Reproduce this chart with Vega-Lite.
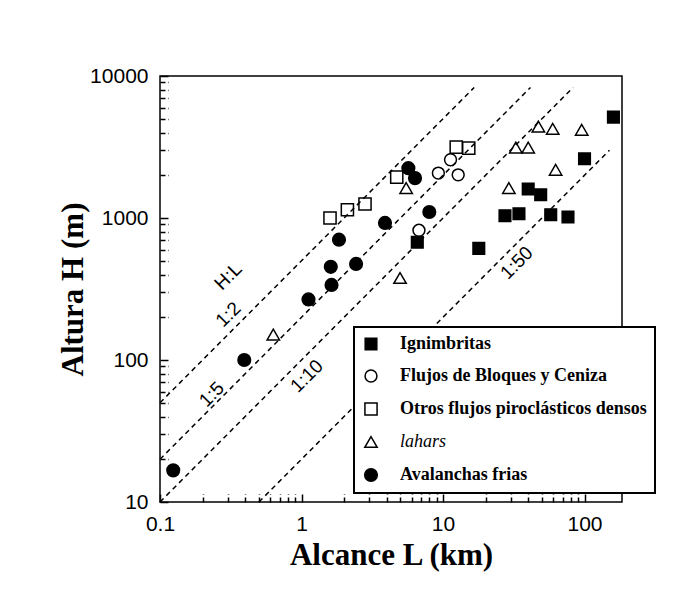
{
  "$schema": "https://vega.github.io/schema/vega-lite/v6.json",
  "width": 462,
  "height": 426,
  "autosize": {"type": "none"},
  "padding": {"left": 160, "top": 76, "right": 74, "bottom": 96},
  "background": "white",
  "config": {
    "view": {"stroke": "black", "strokeWidth": 1.5},
    "axis": {"grid": false, "ticks": true},
    "legend": {
      "orient": "none",
      "legendX": 194,
      "legendY": 251,
      "direction": "vertical",
      "strokeColor": "black",
      "fillColor": "white",
      "padding": 8,
      "rowPadding": 14,
      "labelFont": "Liberation Serif",
      "labelFontSize": 18,
      "labelFontWeight": "bold",
      "labelColor": "black",
      "labelOffset": 20,
      "labelLimit": 500,
      "symbolStrokeColor": "black",
      "symbolStrokeWidth": 1.5
    }
  },
  "datasets": {
    "lines": [
      {"ratio": "1:2", "L": 0.1, "H": 50},
      {"ratio": "1:2", "L": 16.6, "H": 8300},
      {"ratio": "1:5", "L": 0.1, "H": 20},
      {"ratio": "1:5", "L": 41.5, "H": 8300},
      {"ratio": "1:10", "L": 0.1, "H": 10},
      {"ratio": "1:10", "L": 83, "H": 8300},
      {"ratio": "1:50", "L": 0.5, "H": 10},
      {"ratio": "1:50", "L": 150, "H": 3000}
    ],
    "labels": [
      {"t": "H:L", "L": 0.304, "H": 389},
      {"t": "1:2", "L": 0.304, "H": 209},
      {"t": "1:5", "L": 0.232, "H": 57.3},
      {"t": "1:10", "L": 1.09, "H": 77},
      {"t": "1:50", "L": 33.2, "H": 483}
    ],
    "points": [
      {"tipo": "Ignimbritas", "L": 160, "H": 5130},
      {"tipo": "Ignimbritas", "L": 100, "H": 2612},
      {"tipo": "Ignimbritas", "L": 40, "H": 1600},
      {"tipo": "Ignimbritas", "L": 49, "H": 1458},
      {"tipo": "Ignimbritas", "L": 27.4, "H": 1038},
      {"tipo": "Ignimbritas", "L": 34.4, "H": 1072},
      {"tipo": "Ignimbritas", "L": 57.7, "H": 1055},
      {"tipo": "Ignimbritas", "L": 76.4, "H": 1016},
      {"tipo": "Ignimbritas", "L": 17.9, "H": 611},
      {"tipo": "Ignimbritas", "L": 6.58, "H": 675},
      {"tipo": "Flujos de Bloques y Ceniza", "L": 9.27, "H": 2072},
      {"tipo": "Flujos de Bloques y Ceniza", "L": 11.3, "H": 2571},
      {"tipo": "Flujos de Bloques y Ceniza", "L": 12.8, "H": 2014},
      {"tipo": "Flujos de Bloques y Ceniza", "L": 6.76, "H": 819},
      {"tipo": "Otros flujos piroclásticos densos", "L": 1.59, "H": 1000},
      {"tipo": "Otros flujos piroclásticos densos", "L": 2.11, "H": 1143},
      {"tipo": "Otros flujos piroclásticos densos", "L": 2.81, "H": 1254},
      {"tipo": "Otros flujos piroclásticos densos", "L": 4.71, "H": 1942},
      {"tipo": "Otros flujos piroclásticos densos", "L": 12.4, "H": 3158},
      {"tipo": "Otros flujos piroclásticos densos", "L": 15.2, "H": 3105},
      {"tipo": "lahars", "L": 47.2, "H": 4406},
      {"tipo": "lahars", "L": 59.6, "H": 4246},
      {"tipo": "lahars", "L": 95.5, "H": 4178},
      {"tipo": "lahars", "L": 32.7, "H": 3135},
      {"tipo": "lahars", "L": 40, "H": 3135},
      {"tipo": "lahars", "L": 62.5, "H": 2183},
      {"tipo": "lahars", "L": 29.2, "H": 1625},
      {"tipo": "lahars", "L": 5.49, "H": 1625},
      {"tipo": "lahars", "L": 4.97, "H": 378},
      {"tipo": "lahars", "L": 0.632, "H": 151},
      {"tipo": "Avalanchas frias", "L": 5.69, "H": 2244},
      {"tipo": "Avalanchas frias", "L": 6.34, "H": 1909},
      {"tipo": "Avalanchas frias", "L": 8.0, "H": 1102},
      {"tipo": "Avalanchas frias", "L": 3.89, "H": 923},
      {"tipo": "Avalanchas frias", "L": 1.84, "H": 704},
      {"tipo": "Avalanchas frias", "L": 1.61, "H": 453},
      {"tipo": "Avalanchas frias", "L": 2.43, "H": 475},
      {"tipo": "Avalanchas frias", "L": 1.63, "H": 338},
      {"tipo": "Avalanchas frias", "L": 1.12, "H": 267},
      {"tipo": "Avalanchas frias", "L": 0.394, "H": 100},
      {"tipo": "Avalanchas frias", "L": 0.124, "H": 16.7}
    ]
  },
  "layer": [
    {
      "data": {"name": "lines"},
      "mark": {"type": "line", "stroke": "black", "strokeDash": [5, 4], "strokeWidth": 1.5},
      "encoding": {
        "x": {
          "field": "L", "type": "quantitative",
          "scale": {"type": "log", "domain": [0.1, 184], "nice": false},
          "axis": {
            "orient": "bottom",
            "offset": -8,
            "domain": false,
            "ticks": true,
            "values": [0.1, 0.2, 0.3, 0.4, 0.5, 0.6, 0.7, 0.8, 0.9, 1, 2, 3, 4, 5, 6, 7, 8, 9, 10, 20, 30, 40, 50, 60, 70, 80, 90, 100],
            "labelExpr": "indexof([0.1, 1, 10, 100], datum.value) >= 0 ? format(datum.value, '~g') : ''",
            "tickSize": 8,
            "tickDash": {"condition": {"test": "indexof([0.1, 1, 10, 100], datum.value) >= 0", "value": [10, 1]}, "value": [0.5, 2.5, 5, 20]},
            "tickWidth": 1.5, "tickColor": "black", "tickOpacity": 1,
            "labelPadding": 11, "labelFont": "Liberation Sans", "labelFontSize": 21, "labelColor": "black",
            "labelFlush": false, "labelOverlap": false,
            "title": "Alcance L (km)", "titleFont": "Liberation Serif", "titleFontSize": 31,
            "titleFontWeight": "bold", "titleColor": "black", "titlePadding": 6
          }
        },
        "y": {
          "field": "H", "type": "quantitative",
          "scale": {"type": "log", "domain": [10, 10000], "nice": false},
          "axis": {
            "orient": "left",
            "offset": -8,
            "domain": false,
            "ticks": true,
            "values": [10, 20, 30, 40, 50, 60, 70, 80, 90, 100, 200, 300, 400, 500, 600, 700, 800, 900, 1000, 2000, 3000, 4000, 5000, 6000, 7000, 8000, 9000, 10000],
            "labelExpr": "indexof([10, 100, 1000, 10000], datum.value) >= 0 ? format(datum.value, '~g') : ''",
            "tickSize": 8,
            "tickDash": {"condition": {"test": "indexof([10, 100, 1000, 10000], datum.value) >= 0", "value": [10, 1]}, "value": [0.5, 2.5, 5, 20]},
            "tickWidth": 1.5, "tickColor": "black", "tickOpacity": 1,
            "labelPadding": 12, "labelFont": "Liberation Sans", "labelFontSize": 21, "labelColor": "black",
            "labelFlush": false, "labelOverlap": false,
            "title": "Altura H (m)", "titleFont": "Liberation Serif", "titleFontSize": 31,
            "titleFontWeight": "bold", "titleColor": "black", "titlePadding": 0
          }
        },
        "detail": {"field": "ratio", "type": "nominal"}
      }
    },
    {
      "data": {"name": "labels"},
      "mark": {"type": "text", "angle": 315, "font": "Liberation Sans", "fontSize": 19, "align": "center", "baseline": "middle", "color": "black"},
      "encoding": {
        "x": {"field": "L", "type": "quantitative"},
        "y": {"field": "H", "type": "quantitative"},
        "text": {"field": "t", "type": "nominal"}
      }
    },
    {
      "data": {"name": "points"},
      "mark": {"type": "point", "stroke": "black", "strokeWidth": 1.5, "opacity": 1},
      "encoding": {
        "x": {"field": "L", "type": "quantitative"},
        "y": {"field": "H", "type": "quantitative"},
        "shape": {
          "field": "tipo", "type": "nominal",
          "scale": {
            "domain": ["Ignimbritas", "Flujos de Bloques y Ceniza", "Otros flujos piroclásticos densos", "lahars", "Avalanchas frias"],
            "range": ["square", "circle", "square", "triangle-up", "circle"]
          },
          "legend": {
            "title": null,
            "encoding": {
              "labels": {
                "fontStyle": {"condition": {"test": "datum.value === 'lahars'", "value": "italic"}, "value": "normal"},
                "fontWeight": {"condition": {"test": "datum.value === 'lahars'", "value": "normal"}, "value": "bold"}
              },
              "symbols": {"stroke": {"value": "black"}, "strokeWidth": {"value": 1.5}},
              "legend": {"strokeWidth": {"value": 2}}
            }
          }
        },
        "fill": {
          "field": "tipo", "type": "nominal",
          "scale": {
            "domain": ["Ignimbritas", "Flujos de Bloques y Ceniza", "Otros flujos piroclásticos densos", "lahars", "Avalanchas frias"],
            "range": ["black", "transparent", "transparent", "transparent", "black"]
          },
          "legend": {
            "title": null,
            "encoding": {
              "labels": {
                "fontStyle": {"condition": {"test": "datum.value === 'lahars'", "value": "italic"}, "value": "normal"},
                "fontWeight": {"condition": {"test": "datum.value === 'lahars'", "value": "normal"}, "value": "bold"}
              },
              "symbols": {"stroke": {"value": "black"}, "strokeWidth": {"value": 1.5}},
              "legend": {"strokeWidth": {"value": 2}}
            }
          }
        },
        "size": {
          "field": "tipo", "type": "nominal",
          "scale": {
            "domain": ["Ignimbritas", "Flujos de Bloques y Ceniza", "Otros flujos piroclásticos densos", "lahars", "Avalanchas frias"],
            "range": [135, 160, 165, 270, 115]
          },
          "legend": {
            "title": null,
            "encoding": {
              "labels": {
                "fontStyle": {"condition": {"test": "datum.value === 'lahars'", "value": "italic"}, "value": "normal"},
                "fontWeight": {"condition": {"test": "datum.value === 'lahars'", "value": "normal"}, "value": "bold"}
              },
              "symbols": {"stroke": {"value": "black"}, "strokeWidth": {"value": 1.5}},
              "legend": {"strokeWidth": {"value": 2}}
            }
          }
        }
      }
    }
  ]
}
